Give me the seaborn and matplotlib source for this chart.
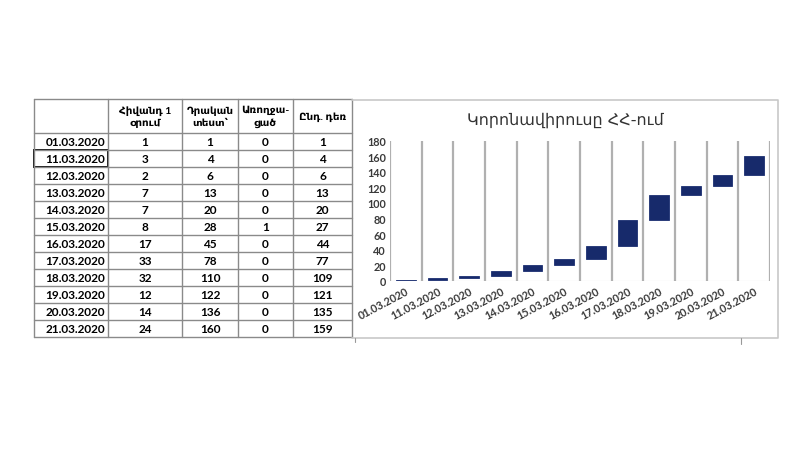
import numpy as np
import pandas as pd
import matplotlib
matplotlib.use("Agg")
import matplotlib.pyplot as plt
import seaborn as sns

# table / chart data
dates = ["01.03.2020", "11.03.2020", "12.03.2020", "13.03.2020", "14.03.2020",
         "15.03.2020", "16.03.2020", "17.03.2020", "18.03.2020", "19.03.2020",
         "20.03.2020", "21.03.2020"]
new_per_day = [1, 3, 2, 7, 7, 8, 17, 33, 32, 12, 14, 24]
positive = [1, 4, 6, 13, 20, 28, 45, 78, 110, 122, 136, 160]
recovered = [0, 0, 0, 0, 0, 1, 0, 0, 0, 0, 0, 0]
active = [1, 4, 6, 13, 20, 27, 44, 77, 109, 121, 135, 159]

headers = ["Հիվանդ 1\nօրում", "Դրական\nտեստ՝", "Առողջա-\nցած", "Ընդ. դեռ"]
title = "Կորոնավիրուսը ՀՀ-ում"
y_ticks = [0, 20, 40, 60, 80, 100, 120, 140, 160, 180]

sns.set_theme(style="white")
plt.rcParams["font.family"] = ["Lato", "DejaVu Sans"]

W, H = 811, 456
fig = plt.figure(figsize=(W / 100, H / 100), dpi=100)
fig.patch.set_facecolor("white")

# full-figure pixel canvas for the table and the chart frame
bg = fig.add_axes([0, 0, 1, 1], zorder=0)
bg.set_xlim(0, W)
bg.set_ylim(H, 0)
bg.axis("off")

col_x = [34, 108, 182, 238, 293, 352]
head_top, head_bot = 100, 134
row_h = 17.0
n = len(dates)
tab_bot = head_bot + n * row_h
line_c = "#8a8a8a"

# table grid
for x in col_x:
    bg.plot([x, x], [head_top, tab_bot], color=line_c, lw=1)
bg.plot([col_x[0], col_x[-1]], [head_top, head_top], color=line_c, lw=1)
for i in range(n + 1):
    y = head_bot + i * row_h
    bg.plot([col_x[0], col_x[-1]], [y, y], color=line_c, lw=1)
# selected cell outline
bg.add_patch(plt.Rectangle((col_x[0], head_bot + row_h), col_x[1] - col_x[0], row_h,
                           fill=False, ec="#111111", lw=1.4))

txt_c = "#000000"
for j, h in enumerate(headers):
    cx = (col_x[j + 1] + col_x[j + 2]) / 2
    bg.text(cx, (head_top + head_bot) / 2, h, ha="center", va="center",
            fontsize=7.5, fontweight="bold", color=txt_c, linespacing=1.5)

cols = [new_per_day, positive, recovered, active]
for i, d in enumerate(dates):
    cy = head_bot + (i + 0.5) * row_h
    bg.text(col_x[1] - 3, cy, d, ha="right", va="center", fontsize=8.5,
            fontweight="bold", color=txt_c)
    for j, vals in enumerate(cols):
        cx = (col_x[j + 1] + col_x[j + 2]) / 2
        bg.text(cx, cy, str(vals[i]), ha="center", va="center", fontsize=8.5,
                fontweight="bold", color=txt_c)

# chart frame
frame_c = "#c8c8c8"
bg.plot([352, 778, 778, 352], [101, 101, 339, 339], color=frame_c, lw=1.2)
bg.plot([355, 355], [339, 343], color="#999999", lw=0.8)
bg.plot([741, 741], [339, 345], color="#999999", lw=0.8)

bg.text(565, 120, title, ha="center", va="center", fontsize=11.5, color="#333333",
        family=["DejaVu Sans"])

# stock-style chart: box from previous total to current total
ax = fig.add_axes([390 / W, 1 - 281.7 / H, (770 - 390) / W, (281.7 - 141.7) / H], zorder=1)
ax.patch.set_alpha(0)
df = pd.DataFrame({"date": dates,
                   "height": new_per_day,
                   "bottom": np.array(positive) - np.array(new_per_day)})
sns.barplot(data=df, x="date", y="height", bottom=df["bottom"].values, ax=ax,
            color="#172a6b", saturation=1, width=0.63, errorbar=None,
            edgecolor="#1c2f72", linewidth=0.6, zorder=3)

edges = np.arange(n + 1) - 0.5
ax.vlines(edges, 0, y_ticks[-1], color="#b0b0b0", lw=1.6, zorder=2)
ax.axhline(0, color="#d0d0d0", lw=0.8, zorder=1)

ax.set_xlim(-0.5, n - 0.5)
ax.set_ylim(0, y_ticks[-1])
ax.set_yticks(y_ticks)
ax.set_xlabel("")
ax.set_ylabel("")
for s in ax.spines.values():
    s.set_visible(False)
ax.tick_params(axis="both", length=0, pad=3, colors="#3a3a3a")
ax.set_yticklabels([str(v) for v in y_ticks], fontsize=7.8, fontweight="bold", color="#3a3a3a")
ax.set_xticks(range(n))
ax.set_xticklabels(dates, rotation=28, ha="right", rotation_mode="anchor",
                   fontsize=7.8, fontweight="bold", color="#3a3a3a")

fig.savefig("out.png", dpi=100)
